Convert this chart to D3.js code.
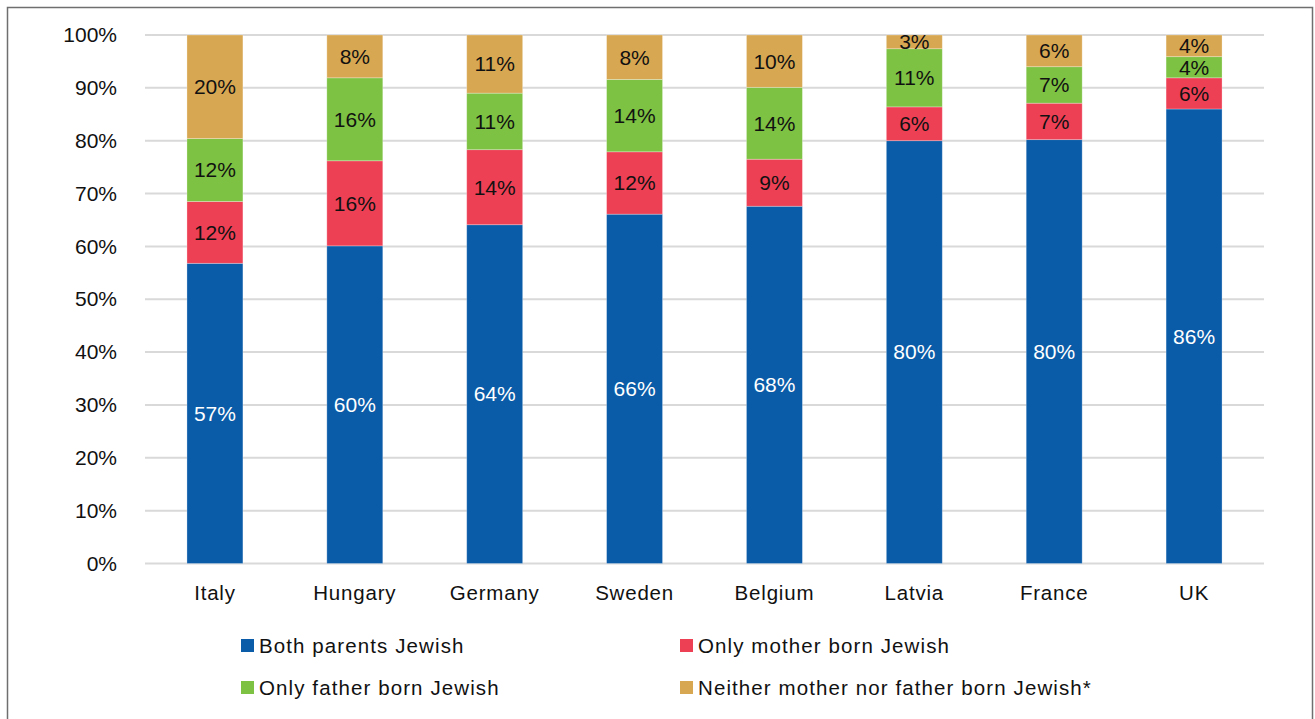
<!DOCTYPE html>
<html><head><meta charset="utf-8">
<script src="https://cdn.jsdelivr.net/npm/d3@7"></script>
<style>
body{margin:0;background:#fff;}
svg{display:block;}
text{font-family:"Liberation Sans","Noto Sans",sans-serif;}
</style></head>
<body><svg id="c" width="1315" height="719"></svg>
<script>
const countries = ["Italy","Hungary","Germany","Sweden","Belgium","Latvia","France","UK"];
const seriesNames = ["Both parents Jewish","Only mother born Jewish","Only father born Jewish","Neither mother nor father born Jewish*"];
const bothParents = [56.8, 60.1, 64.1, 66.1, 67.6, 80.0, 80.2, 86.0];
const onlyMother  = [11.7, 16.1, 14.2, 11.8, 8.9, 6.4, 6.9, 5.9];
const onlyFather  = [11.9, 15.7, 10.7, 13.7, 13.6, 11.0, 6.9, 4.0];
const neither     = [19.6, 8.1, 11.0, 8.4, 9.9, 2.6, 6.0, 4.1];
const yTicks = [0,10,20,30,40,50,60,70,80,90,100];
const colors = ["#0A5CA8","#EE4055","#7DC242","#D8A752"];
const labelColors = ["#ffffff","#111111","#111111","#111111"];

(function(){
const svg = d3.select("#c");
svg.append("rect").attr("x",7.5).attr("y",7.5).attr("width",1305).attr("height",720).attr("fill","none").attr("stroke","#6f6f6f").attr("stroke-width",1.5);

const pL=145, pR=1264, pT=35, pB=563.5;
const x = d3.scaleBand().domain(countries).range([pL,pR]).paddingInner(0.6).paddingOuter(0.3);
const y = d3.scaleLinear().domain([0,100]).range([pB,pT]);

svg.append("g").selectAll("line").data(yTicks).join("line")
  .attr("x1",pL).attr("x2",pR).attr("y1",d=>y(d)).attr("y2",d=>y(d))
  .attr("stroke","#d9d9d9").attr("stroke-width",2);

const yAxis = svg.append("g").attr("transform",`translate(${pL},0)`)
  .call(d3.axisLeft(y).tickValues(yTicks).tickFormat(d=>d+"%").tickSize(0).tickPadding(28));
yAxis.select(".domain").remove();
yAxis.selectAll("text").attr("font-size",21).attr("fill","#111").attr("font-family","Liberation Sans");

const xAxis = svg.append("g").attr("transform",`translate(0,${pB})`)
  .call(d3.axisBottom(x).tickSize(0).tickPadding(22));
xAxis.select(".domain").remove();
xAxis.selectAll("text").attr("font-size",20.5).attr("letter-spacing",0.8).attr("fill","#111").attr("font-family","Liberation Sans");

const rows = countries.map((c,i)=>({country:c, s0:bothParents[i], s1:onlyMother[i], s2:onlyFather[i], s3:neither[i]}));
const stack = d3.stack().keys(["s0","s1","s2","s3"])(rows);

const layers = svg.append("g").selectAll("g").data(stack).join("g").attr("fill",(d,i)=>colors[i]);
layers.selectAll("rect").data(d=>d).join("rect")
  .attr("x",d=>x(d.data.country)).attr("width",x.bandwidth())
  .attr("y",d=>y(d[1])).attr("height",d=>y(d[0])-y(d[1]))
  .attr("stroke","#ffffff").attr("stroke-opacity",0.35).attr("stroke-width",0.8);

const lbl = svg.append("g").selectAll("g").data(stack).join("g");
lbl.each(function(layer,li){
  d3.select(this).selectAll("text").data(layer).join("text")
    .attr("x",d=>x(d.data.country)+x.bandwidth()/2)
    .attr("y",d=>y((d[0]+d[1])/2))
    .attr("dy","0.35em")
    .attr("text-anchor","middle")
    .attr("font-size",21)
    .attr("fill",labelColors[li])
    .text(d=>Math.round(d[1]-d[0])+"%");
});

const legendPos = [[241,646],[680,646],[241,688],[680,688]];
const lg = svg.append("g").selectAll("g").data(seriesNames).join("g")
  .attr("transform",(d,i)=>`translate(${legendPos[i][0]},${legendPos[i][1]})`);
lg.append("rect").attr("x",0).attr("y",-7).attr("width",13).attr("height",13).attr("fill",(d,i)=>colors[i]);
lg.append("text").attr("x",18).attr("dy","0.35em").attr("font-size",20.5).attr("letter-spacing",1.1).attr("fill","#111").text(d=>d);
})();
</script></body></html>
